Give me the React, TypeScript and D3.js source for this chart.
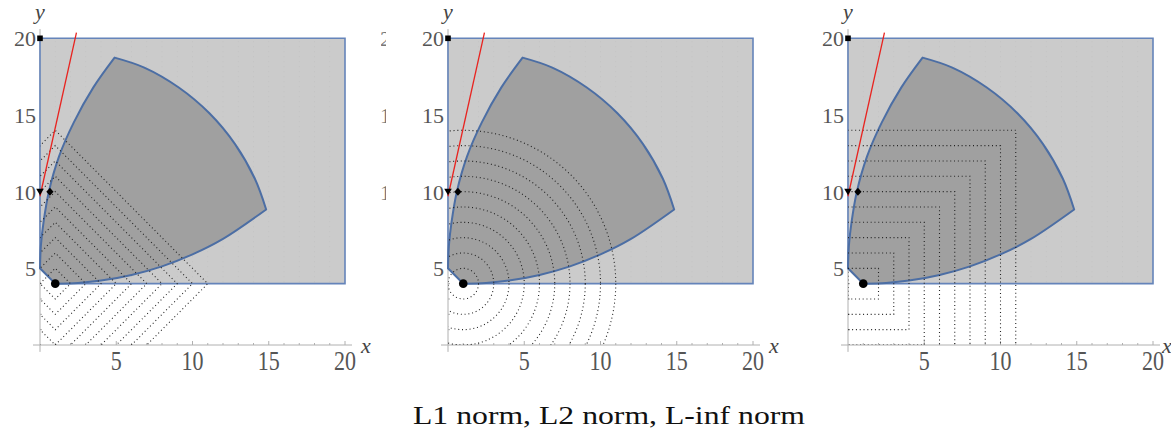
import React, { useEffect, useRef } from "react";
import * as d3 from "d3";

// three panels: L1, L2, L-inf contour lines around the same feasible region
const panelNames = ["L1", "L2", "Linf"];
const panelOrigins = [40, 448, 848];
const xTicks = [5, 10, 15, 20];
const yTicks = [5, 10, 15, 20];
const minorTicks = d3.range(1, 21);
const contourLevels = [1, 2, 3, 4, 5, 6, 7, 8, 9, 10];
const contourCenter = [1, 4];

// light box, with its lower-left corner cut
const boxOutline: [number, number][] = [[0, 20], [20, 20], [20, 4], [1, 4], [0, 5]];
// dark region boundary
const leftEdge: [number, number][] = [[0, 5], [0.06, 6.5], [0.23, 8], [0.58, 10], [1.25, 12.3], [2.21, 14.5], [3.5, 16.8], [4.89, 18.74]];
const outerArc: [number, number][] = [[4.89, 18.74], [6.84, 18.09], [9.1, 16.79], [11.11, 15.11], [12.79, 13.1], [14.09, 10.84], [14.83, 8.84]];
const lowerEdge: [number, number][] = [[14.83, 8.84], [12, 6.92], [10, 5.91], [8, 5.13], [6, 4.57], [4, 4.2], [2.5, 4.05], [1, 4]];
const redLine: [number, number][] = [[0, 9.7], [2.39, 20.37]];
const markers = [
  { x: 0, y: 20, shape: "square" },
  { x: 0, y: 10, shape: "triangle" },
  { x: 0.65, y: 10, shape: "diamond" },
  { x: 1, y: 4, shape: "circle" },
];
const caption = "L1 norm, L2 norm, L-inf norm";

const serif = "Liberation Serif";

function App() {
  const ref = useRef<SVGSVGElement>(null);

  useEffect(() => {
    const svg = d3.select(ref.current);
    svg.selectAll("*").remove();
    const defs = svg.append("defs");

    panelNames.forEach((name, i) => {
      const x0 = panelOrigins[i];
      const x = d3.scaleLinear().domain([0, 20]).range([x0, x0 + 305]);
      const y = d3.scaleLinear().domain([0, 20]).range([345, 38.3]);
      const g = svg.append("g").attr("class", "panel-" + name);
      const line = d3.line<[number, number]>().x(d => x(d[0])).y(d => y(d[1]));
      const curve = d3.line<[number, number]>().x(d => x(d[0])).y(d => y(d[1])).curve(d3.curveCatmullRom.alpha(0.5));

      // axes (under everything)
      g.append("line").attr("x1", x(-0.46)).attr("x2", x(20.46)).attr("y1", y(0)).attr("y2", y(0))
        .attr("stroke", "#b0b0b0").attr("stroke-width", 1);
      g.append("line").attr("x1", x(0)).attr("x2", x(0)).attr("y1", y(-0.45)).attr("y2", y(20.6))
        .attr("stroke", "#b0b0b0").attr("stroke-width", 1);
      g.selectAll(".xt").data(minorTicks).join("line").attr("class", "xt")
        .attr("x1", d => x(d)).attr("x2", d => x(d))
        .attr("y1", y(0)).attr("y2", d => y(0) - (d % 5 === 0 ? 4 : 2))
        .attr("stroke", "#b0b0b0");
      g.selectAll(".yt").data(minorTicks).join("line").attr("class", "yt")
        .attr("y1", d => y(d)).attr("y2", d => y(d))
        .attr("x1", x(0)).attr("x2", d => x(0) + (d % 5 === 0 ? 4 : 2))
        .attr("stroke", "#b0b0b0");

      // light box
      g.append("path").attr("d", line(boxOutline) + "Z")
        .attr("fill", "#cbcbcb").attr("stroke", "#6584ba").attr("stroke-width", 1.6);

      // very faint grid inside the box
      g.selectAll(".gx").data(d3.range(1, 20)).join("line").attr("class", "gx")
        .attr("x1", d => x(d)).attr("x2", d => x(d)).attr("y1", y(4.1)).attr("y2", y(19.9))
        .attr("stroke", "#8a8a8a").attr("stroke-opacity", 0.1).attr("stroke-dasharray", "1,4");

      // dark region
      const dPath = curve(leftEdge)! + curve(outerArc)!.replace(/^M/, "L") + curve(lowerEdge)!.replace(/^M/, "L") + "Z";
      g.append("path").attr("d", dPath)
        .attr("fill", "#a0a0a0").attr("stroke", "#4c6ea4").attr("stroke-width", 2).attr("stroke-linejoin", "round");

      // contour lines, clipped to the first quadrant
      defs.append("clipPath").attr("id", "clip-" + name)
        .append("rect").attr("x", x(0)).attr("y", 0).attr("width", 330).attr("height", y(0));
      const c = g.append("g").attr("clip-path", `url(#clip-${name})`)
        .attr("fill", "none").attr("stroke", "#222").attr("stroke-width", 1.1).attr("stroke-dasharray", "1,2.8");
      const [cx, cy] = contourCenter;
      if (name === "L1") {
        c.selectAll("path").data(contourLevels).join("path")
          .attr("d", r => line([[cx - r, cy], [cx, cy + r], [cx + r, cy], [cx, cy - r]]) + "Z");
      } else if (name === "L2") {
        c.selectAll("ellipse").data(contourLevels).join("ellipse")
          .attr("cx", x(cx)).attr("cy", y(cy))
          .attr("rx", r => x(r) - x(0)).attr("ry", r => y(0) - y(r));
      } else {
        c.selectAll("rect").data(contourLevels).join("rect")
          .attr("x", r => x(cx - r)).attr("y", r => y(cy + r))
          .attr("width", r => x(2 * r) - x(0)).attr("height", r => y(0) - y(2 * r));
      }

      // red line
      g.append("path").attr("d", line(redLine)).attr("stroke", "#e8231f").attr("stroke-width", 1.3).attr("fill", "none");

      // markers
      markers.forEach(m => {
        const px = x(m.x), py = y(m.y);
        if (m.shape === "square") {
          g.append("rect").attr("x", px - 2.8).attr("y", py - 2.8).attr("width", 5.6).attr("height", 5.6).attr("fill", "#000");
        } else if (m.shape === "triangle") {
          g.append("path").attr("d", `M${px - 3.8},${py - 3}L${px + 3.8},${py - 3}L${px},${py + 3.6}Z`).attr("fill", "#000");
        } else if (m.shape === "diamond") {
          g.append("path").attr("d", `M${px},${py - 4}L${px + 3.6},${py}L${px},${py + 4}L${px - 3.6},${py}Z`).attr("fill", "#000");
        } else {
          g.append("circle").attr("cx", px).attr("cy", py).attr("r", 4.3).attr("fill", "#000");
        }
      });

      // tick labels
      g.selectAll(".xl").data(xTicks).join("text").attr("class", "xl")
        .attr("transform", d => `translate(${x(d)},370) scale(1,1.2)`)
        .attr("text-anchor", "middle").attr("font-family", serif).attr("font-size", 22).attr("fill", "#555")
        .text(d => d);
      g.selectAll(".yl").data(yTicks).join("text").attr("class", "yl")
        .attr("x", x(0) - 4).attr("y", d => y(d) + 8)
        .attr("text-anchor", "end").attr("font-family", serif).attr("font-size", 22).attr("fill", "#555")
        .text(d => d);

      // axis names
      g.append("text").attr("x", x(0)).attr("y", 19).attr("text-anchor", "middle")
        .attr("font-family", serif).attr("font-style", "italic").attr("font-size", 22).attr("fill", "#444").text("y");
      g.append("text").attr("x", Math.min(x(0) + 326, 1167)).attr("y", 353).attr("text-anchor", "middle")
        .attr("font-family", serif).attr("font-style", "italic").attr("font-size", 22).attr("fill", "#444").text("x");
    });

    // bits of a hidden panel's tick labels peeking out right of the first panel
    defs.append("clipPath").attr("id", "peek").append("rect").attr("x", 381).attr("y", 0).attr("width", 5).attr("height", 300);
    const yPeek = d3.scaleLinear().domain([0, 20]).range([345, 38.3]);
    svg.append("g").attr("clip-path", "url(#peek)")
      .selectAll("text").data([10, 15, 20]).join("text")
      .attr("x", 380).attr("y", d => yPeek(d) + 8)
      .attr("font-family", serif).attr("font-size", 22).attr("fill", "#777").text(d => d);

    svg.append("text").attr("x", 413).attr("y", 424)
      .attr("font-family", serif).attr("font-size", 25).attr("fill", "#111")
      .attr("textLength", 392).attr("lengthAdjust", "spacingAndGlyphs")
      .text(caption);
  }, []);

  return (
    <svg ref={ref} width={1171} height={436}
      style={{ position: "absolute", left: 0, top: 0, background: "#fff" }} />
  );
}

export default App;
